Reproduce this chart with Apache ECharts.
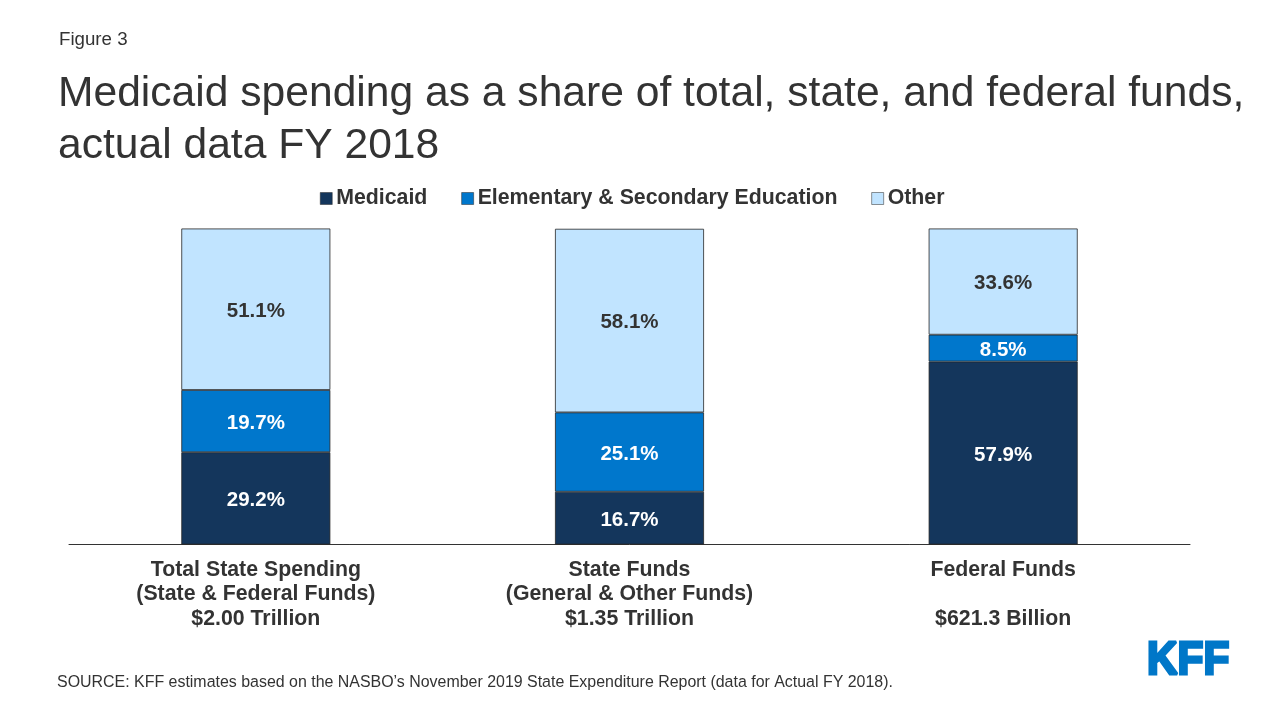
<!DOCTYPE html>
<html>
<head>
    <meta charset="utf-8" />
    <title>Figure 3</title>
    <style>html,body{margin:0;padding:0;background:#fff;}</style>
</head>
<body>
    <div id="divChart" style="width:1280px;height:720px;"></div>
    <script src="https://cdn.jsdelivr.net/npm/echarts@6/dist/echarts.min.js"></script>
    <script>
        var categories = ['Total State Spending\n(State & Federal Funds)\n$2.00 Trillion', 'State Funds\n(General & Other Funds)\n$1.35 Trillion', 'Federal Funds\n\n$621.3 Billion'];
        var medicaid = [29.2, 16.7, 57.9];
        var education = [19.7, 25.1, 8.5];
        var other = [51.1, 58.1, 33.6];
        var fontName = '"Liberation Sans", Arial, sans-serif';

        function makeSeries(name, values, color, labelColor) {
            return {
                name: name,
                type: 'bar',
                stack: 'total',
                barWidth: 149,
                data: values,
                itemStyle: { color: color, borderColor: '#262626', borderWidth: 0.8 },
                label: {
                    show: true,
                    position: 'inside',
                    offset: [0, 2],
                    color: labelColor,
                    fontFamily: fontName,
                    fontSize: 20.5,
                    fontWeight: 'bold',
                    formatter: function (p) { return p.value.toFixed(1) + '%'; }
                }
            };
        }

        var myChart = echarts.init(document.getElementById('divChart'));
        myChart.setOption({
            animation: false,
            title: [
                { text: 'Figure 3', left: 54, top: 25, textStyle: { fontFamily: fontName, fontSize: 18.7, fontWeight: 'normal', color: '#333333' } },
                { text: 'Medicaid spending as a share of total, state, and federal funds,\nactual data FY 2018', left: 53, top: 63, textStyle: { fontFamily: fontName, fontSize: 42.6, fontWeight: 'normal', color: '#333333', lineHeight: 52 } },
                { text: 'SOURCE: KFF estimates based on the NASBO\u2019s November 2019 State Expenditure Report (data for Actual FY 2018).', left: 52, top: 670, textStyle: { fontFamily: fontName, fontSize: 15.95, fontWeight: 'normal', color: '#333333' } }
            ],
            graphic: [{
                type: 'text',
                x: 1147,
                y: 637.5,
                scaleX: 0.9,
                style: { text: 'KFF', fontFamily: fontName, fontSize: 47, fontWeight: 'bold', fill: '#0077c8', stroke: '#0077c8', lineWidth: 3 }
            }],
            legend: {
                top: 183,
                left: 315,
                icon: 'rect',
                itemWidth: 12,
                itemHeight: 12,
                itemGap: 34,
                itemStyle: { borderWidth: 0.5 },
                textStyle: { fontFamily: fontName, fontSize: 21.3, fontWeight: 'bold', color: '#333333', padding: [0, 0, 0, -1] },
                data: ['Medicaid', 'Elementary & Secondary Education', 'Other']
            },
            grid: { left: 69, right: 90, top: 228.5, bottom: 175.5 },
            xAxis: {
                type: 'category',
                data: categories,
                axisTick: { show: false },
                axisLine: { lineStyle: { color: '#333333', width: 1 } },
                axisLabel: { fontFamily: fontName, fontSize: 21.3, fontWeight: 'bold', color: '#333333', lineHeight: 24.5, margin: 13 }
            },
            yAxis: { type: 'value', min: 0, max: 100, show: false, splitLine: { show: false } },
            series: [
                makeSeries('Medicaid', medicaid, '#14365c', '#ffffff'),
                makeSeries('Elementary & Secondary Education', education, '#0077cc', '#ffffff'),
                makeSeries('Other', other, '#c1e4ff', '#333333')
            ]
        });
    </script>
</body>
</html>
